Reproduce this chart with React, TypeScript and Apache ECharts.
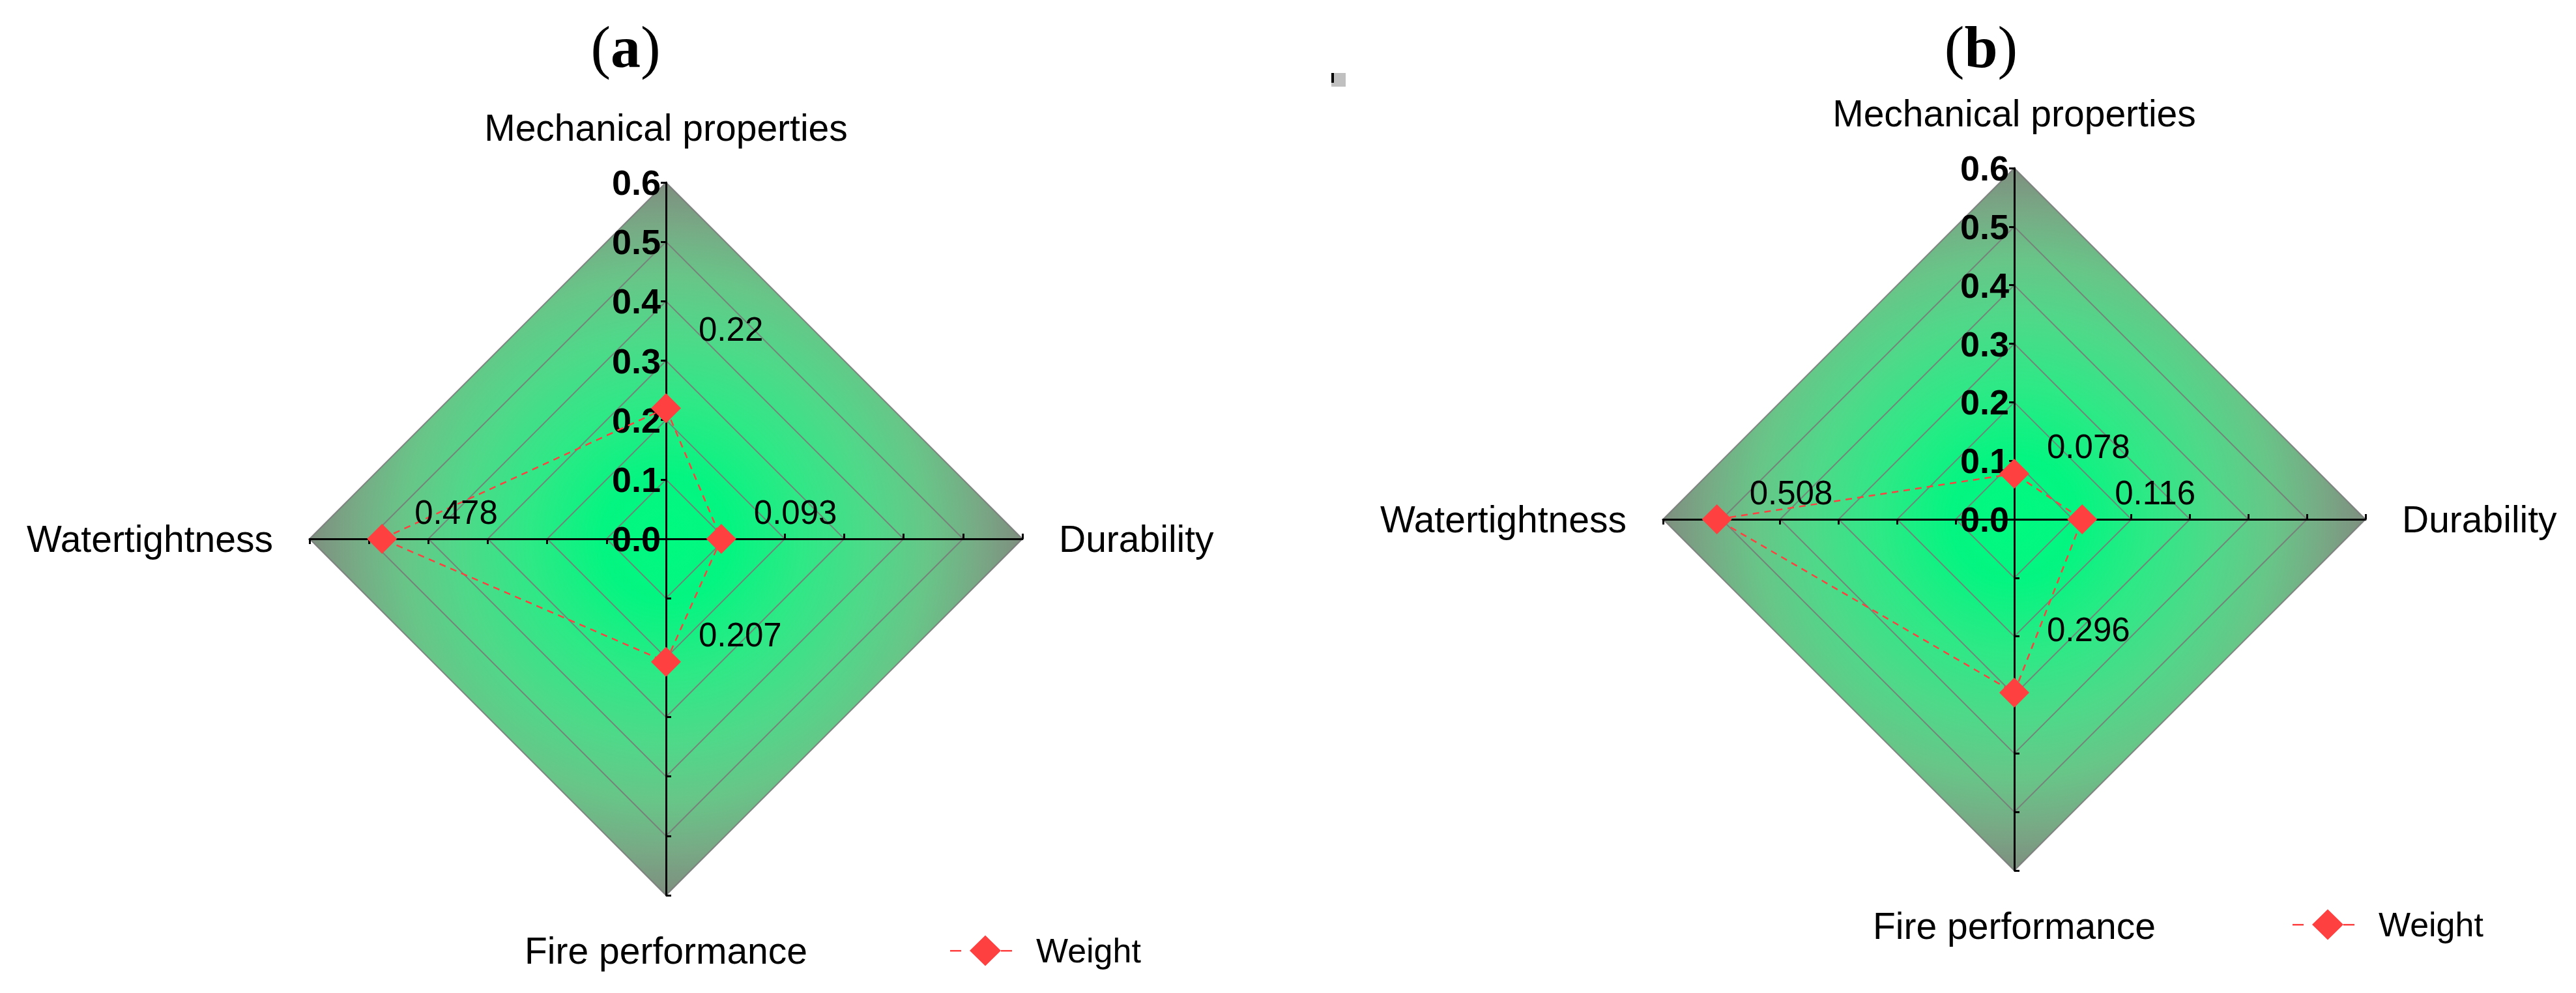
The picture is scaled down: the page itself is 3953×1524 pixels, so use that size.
import React, { useEffect, useRef } from "react";
import * as echarts from "echarts";

// ---- data ----
const categories = ["Mechanical properties", "Watertightness", "Fire performance", "Durability"];
const valuesA = [0.22, 0.478, 0.207, 0.093];
const valuesB = [0.078, 0.508, 0.296, 0.116];
const tickLabels = ["0.0", "0.1", "0.2", "0.3", "0.4", "0.5", "0.6"];
const axisMin = 0;
const axisMax = 0.6;
const seriesName = "Weight";
const panelTitles = ["a", "b"];

// ---- style config ----
const SANS = "Arial, 'Liberation Sans', Helvetica, sans-serif";
const SERIF = "'Times New Roman', 'Liberation Serif', serif";
const RED = "#ff4040";
// value labels that sit higher than the others (category index, extra lift in px)
const liftA = { index: 0, dy: -121 };
const liftB = { index: 2, dy: -96 };

function makeGradient(cx: number, cy: number, r: number) {
  return {
    type: "radial",
    x: cx,
    y: cy,
    r: r,
    global: true,
    colorStops: [
      { offset: 0, color: "#00fa80" },
      { offset: 0.18, color: "#04f581" },
      { offset: 0.38, color: "#2de986" },
      { offset: 0.58, color: "#50d889" },
      { offset: 0.74, color: "#68c588" },
      { offset: 0.88, color: "#78a985" },
      { offset: 1, color: "#7e8e7f" },
    ],
  };
}

function makeRadar(cx: number, cy: number, r: number) {
  return {
    center: [cx, cy],
    radius: r,
    startAngle: 90,
    shape: "polygon",
    splitNumber: tickLabels.length - 1,
    indicator: categories.map((name, i) => ({
      name,
      min: axisMin,
      max: axisMax,
      axisLabel: { show: i === 0 },
    })),
    axisName: { color: "#000", fontSize: 57, fontFamily: SANS },
    nameGap: 56,
    axisLine: { show: true, lineStyle: { color: "#000", width: 3 } },
    axisTick: { show: true, length: 8, lineStyle: { color: "#000", width: 3 } },
    axisLabel: {
      show: true,
      fontSize: 54,
      fontWeight: "bold",
      fontFamily: SANS,
      color: "#000",
      margin: 8,
      formatter: (v: number) => tickLabels[Math.round((v - axisMin) * 10)] ?? "",
    },
    splitLine: { lineStyle: { color: "rgba(120,120,120,0.85)", width: 2 } },
    splitArea: { show: true, areaStyle: { color: [makeGradient(cx, cy, r)] } },
  };
}

function pickValue(p: any) {
  return Array.isArray(p.value) ? null : p.value;
}

function makeSeries(radarIndex: number, values: number[], lift: { index: number; dy: number }) {
  const liftedValue = values[lift.index];
  const baseLabel = {
    show: true,
    position: "right",
    distance: 27,
    fontSize: 51,
    fontFamily: SANS,
    color: "#000",
  };
  return [
    {
      type: "radar",
      name: seriesName,
      radarIndex,
      symbol: "diamond",
      symbolSize: 46,
      itemStyle: { color: RED },
      lineStyle: { color: RED, width: 2.5, type: [10, 8] },
      label: {
        ...baseLabel,
        offset: [0, -41],
        formatter: (p: any) => {
          const v = pickValue(p);
          return v == null || v === liftedValue ? "" : String(v);
        },
      },
      z: 3,
      data: [{ value: values, name: seriesName }],
    },
    {
      type: "radar",
      name: seriesName + " label",
      radarIndex,
      symbol: "diamond",
      symbolSize: 46,
      itemStyle: { color: "rgba(0,0,0,0)" },
      lineStyle: { color: "rgba(0,0,0,0)", width: 0 },
      label: {
        ...baseLabel,
        offset: [0, lift.dy],
        formatter: (p: any) => {
          const v = pickValue(p);
          return v === liftedValue ? String(v) : "";
        },
      },
      silent: true,
      z: 2,
      data: [{ value: values, name: seriesName + " label" }],
    },
  ];
}

const legendIcon =
  "path://M0,22.5H17V25H0Z M30,23.5L54,0L78,23.5L54,47Z M78,22.5H95V25H78Z";

function makeLegend(left: number, top: number) {
  return {
    left,
    top,
    data: [seriesName],
    icon: legendIcon,
    itemWidth: 95,
    itemHeight: 47,
    itemStyle: { color: RED, borderWidth: 0 },
    textStyle: { fontSize: 52, color: "#000", fontFamily: SANS, padding: [0, 0, 0, 32] },
  };
}

function makeTitle(x: number, y: number, letter: string) {
  return {
    type: "text",
    x,
    y,
    style: {
      text: "{p|(}{b|" + letter + "}{p|)}",
      align: "center",
      verticalAlign: "middle",
      rich: {
        p: { fontSize: 92, fontFamily: SERIF, fill: "#000" },
        b: { fontSize: 92, fontFamily: SERIF, fontWeight: "bold", fill: "#000" },
      },
    },
  };
}

export default function App() {
  const ref = useRef<HTMLDivElement>(null);
  useEffect(() => {
    if (!ref.current) return;
    const chart = echarts.init(ref.current, null, { renderer: "svg" });
    const option: any = {
      animation: false,
      backgroundColor: "#fff",
      radar: [makeRadar(1022, 827, 547), makeRadar(3091, 797, 539)],
      series: [...makeSeries(0, valuesA, liftA), ...makeSeries(1, valuesB, liftB)],
      legend: [makeLegend(1453, 1428), makeLegend(3513, 1388)],
      graphic: [
        makeTitle(960, 72, panelTitles[0]),
        makeTitle(3040, 72, panelTitles[1]),
        { type: "rect", shape: { x: 2043, y: 112, width: 22, height: 21 }, style: { fill: "#c0c0c0" } },
        { type: "rect", shape: { x: 2043, y: 112, width: 4, height: 15 }, style: { fill: "#000" } },
      ],
    };
    chart.setOption(option);
    return () => chart.dispose();
  }, []);
  return (
    <div
      ref={ref}
      style={{ position: "absolute", left: 0, top: 0, width: 3953, height: 1524 }}
    />
  );
}
